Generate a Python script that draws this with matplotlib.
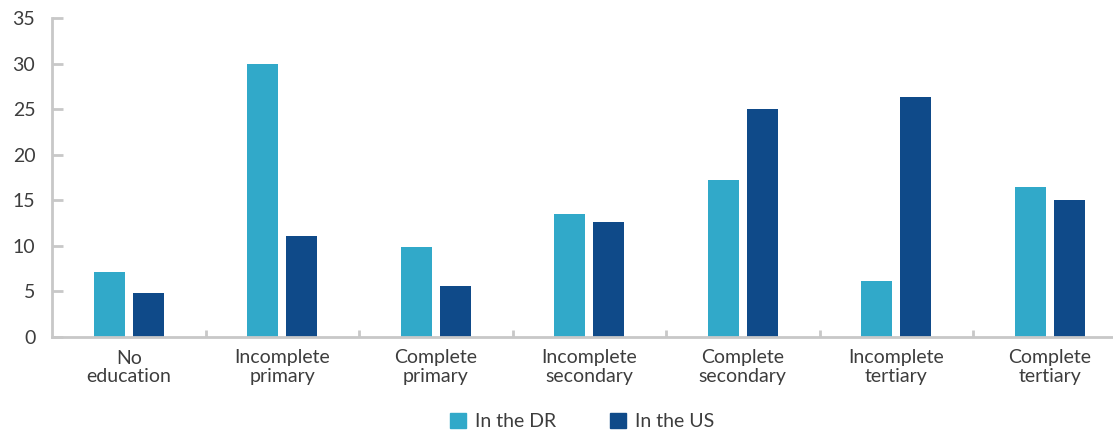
import matplotlib
matplotlib.use("Agg")
import matplotlib.pyplot as plt
from matplotlib.patches import Patch
import numpy as np

categories = ["No\neducation", "Incomplete\nprimary", "Complete\nprimary",
              "Incomplete\nsecondary", "Complete\nsecondary",
              "Incomplete\ntertiary", "Complete\ntertiary"]
in_dr = [7.1, 30.0, 9.9, 13.5, 17.2, 6.1, 16.5]
in_us = [4.8, 11.1, 5.6, 12.6, 25.0, 26.3, 15.0]
series_names = ["In the DR", "In the US"]

c_dr = "#31a9c9"
c_us = "#0f4a89"
grey = "#c8c8c8"
txt = "#3d3d3d"

plt.rcParams["font.family"] = ["Lato", "DejaVu Sans"]

fig = plt.figure(figsize=(11.13, 4.30), dpi=100)
W, H = 1113.0, 430.0
step = 153.5
ax = fig.add_axes([52 / W, 93 / H, 7 * step / W, (337 - 18) / H])

x = np.arange(len(categories))
bw = 0.2
off = 0.127
ax.bar(x - off, in_dr, bw, color=c_dr, zorder=2)
ax.bar(x + off, in_us, bw, color=c_us, zorder=2)

ax.set_xlim(-0.5, 6.5)
ax.set_ylim(0, 35)
ax.set_yticks(range(0, 36, 5))
ax.set_xticks(x)
ax.set_xticklabels(categories, fontsize=14, color=txt, linespacing=1.1)
ax.set_xticks(np.arange(0.5, 6, 1), minor=True)

for s in ["top", "right"]:
    ax.spines[s].set_visible(False)
for s in ["left", "bottom"]:
    ax.spines[s].set_color(grey)
    ax.spines[s].set_linewidth(2)

ax.tick_params(axis="y", direction="in", length=8, width=2, color=grey,
               labelsize=14, labelcolor=txt, pad=12)
ax.tick_params(axis="x", which="major", length=0, pad=9)
ax.tick_params(axis="x", which="minor", direction="in", length=5, width=2,
               color=grey)

handles = [Patch(color=c_dr), Patch(color=c_us)]
fig.legend(handles, series_names, loc="center", bbox_to_anchor=(0.523, 0.02),
           ncol=2, frameon=False, fontsize=14, handlelength=0.8,
           handleheight=0.8, handletextpad=0.45, columnspacing=2.8,
           labelcolor=txt)

fig.savefig("out.png", dpi=100)
